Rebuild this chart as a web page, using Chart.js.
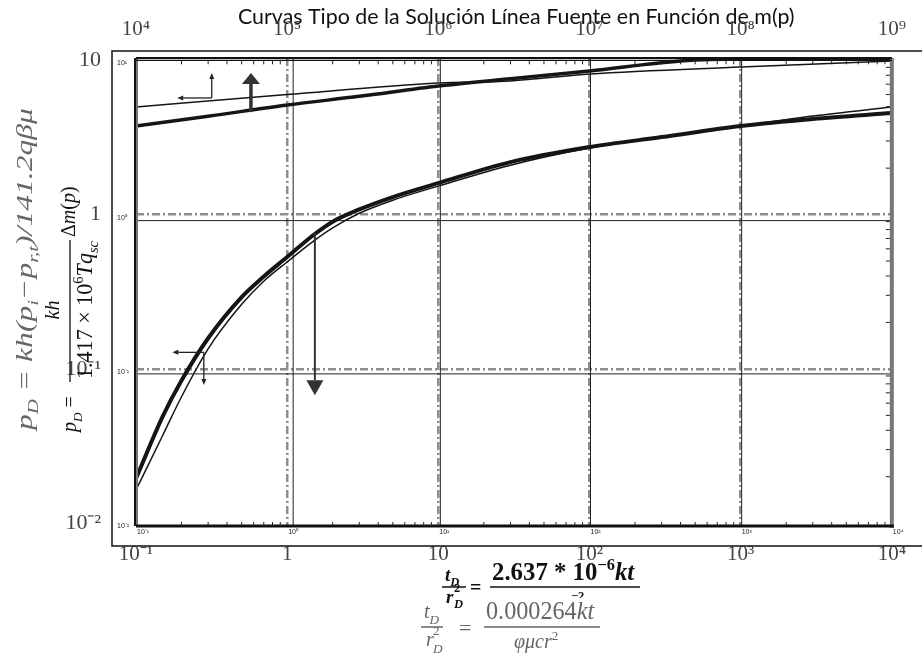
<!DOCTYPE html>
<html>
<head>
<meta charset="utf-8">
<title>Curvas Tipo - Solución Línea Fuente</title>
<script src="https://cdn.jsdelivr.net/npm/chart.js@4.4.0/dist/chart.umd.min.js"></script>
<style>
  html, body { margin: 0; padding: 0; background: #fff; }
  #wrap { width: 922px; height: 665px; }
</style>
</head>
<body>
<div id="wrap"><canvas id="curvas" width="922" height="665"></canvas></div>
<script>
// Lower pair of curves: pD against tD/rD^2 (bottom axis)
const lowerThickX = [0.1, 0.15, 0.2, 0.3, 0.5, 0.7, 1, 1.5, 2, 3, 5, 10, 30, 100, 300, 1000, 3000, 10000];
const lowerThick  = [0.0195, 0.049, 0.084, 0.158, 0.292, 0.397, 0.531, 0.74, 0.9, 1.08, 1.30, 1.60, 2.19, 2.74, 3.18, 3.75, 4.17, 4.55];
const lowerThinX  = [0.1, 0.15, 0.2, 0.3, 0.5, 0.7, 1, 1.5, 2, 3, 5, 10, 30, 100, 300, 1000, 3000, 10000];
const lowerThin   = [0.0164, 0.037, 0.066, 0.135, 0.262, 0.37, 0.493, 0.675, 0.82, 1.02, 1.24, 1.53, 2.09, 2.70, 3.18, 3.75, 4.35, 4.98];

// Upper pair of curves: pD against the top axis
const upperThickX = [1e4, 3e4, 1e5, 3e5, 1e6, 3e6, 1e7, 4e7, 1e8, 1e9];
const upperThick  = [3.75, 4.34, 5.13, 5.84, 6.81, 7.6, 8.53, 9.9, 10.2, 10.2];
const upperThinX  = [1e4, 1e5, 1e6, 3e6, 1e7, 1e8, 1e9];
const upperThin   = [4.98, 6.0, 7.13, 7.35, 8.15, 9.05, 9.9];

// Axis ticks and labels
const bottomTicks  = [0.1, 1, 10, 100, 1000, 10000];
const bottomLabels = ['10⁻¹', '1', '10', '10²', '10³', '10⁴'];
const topTicks     = [1e4, 1e5, 1e6, 1e7, 1e8, 1e9];
const topLabels    = ['10⁴', '10⁵', '10⁶', '10⁷', '10⁸', '10⁹'];
const leftTicks    = [0.01, 0.1, 1, 10];
const leftLabels   = ['10⁻²', '10⁻¹', '1', '10'];
const innerBottomLabels = ['10⁻¹', '10⁰', '10¹', '10²', '10³', '10⁴'];
const innerLeftLabels   = ['10⁻²', '10⁻¹', '10⁰', '10¹'];

// Arrows drawn on the plot (data units)
const bigUp   = { x: 0.576, from: 4.62, to: 8.27 };
const bigDown = { x: 1.525, from: 0.76, to: 0.0676 };
const upperL  = { x: 0.317, y: 5.7, up: 8.27, left: 0.1875 };
const lowerL  = { x: 0.281, y: 0.128, down: 0.0787, left: 0.174 };

const title = 'Curvas Tipo de la Solución Línea Fuente en Función de m(p)';

function toPoints(xs, ys) {
    return xs.map((x, i) => ({ x: x, y: ys[i] }));
}

// draw a run of text pieces (italic, bold, sub, sup); returns width
function rich(ctx, parts, size, x, y, draw) {
    let cx = x;
    parts.forEach(p => {
        const s = (p.sub || p.sup) ? size * 0.66 : size;
        ctx.font = (p.it ? 'italic ' : '') + (p.b ? 'bold ' : '') + s.toFixed(1) + 'px ' + (p.f || '"Liberation Serif"');
        const dy = p.sub ? size * 0.28 : p.sup ? -size * 0.42 : 0;
        if (draw) ctx.fillText(p.t, cx, y + dy);
        cx += ctx.measureText(p.t).width;
    });
    return cx - x;
}

function fit(ctx, parts, base, target) {
    return base * target / rich(ctx, parts, base, 0, 0, false);
}

function arrow(ctx, x1, y1, x2, y2, head, half, width, color) {
    const a = Math.atan2(y2 - y1, x2 - x1);
    const bx = x2 - head * Math.cos(a), by = y2 - head * Math.sin(a);
    ctx.strokeStyle = color;
    ctx.lineWidth = width;
    ctx.beginPath(); ctx.moveTo(x1, y1); ctx.lineTo(bx, by); ctx.stroke();
    ctx.fillStyle = color;
    ctx.beginPath();
    ctx.moveTo(x2, y2);
    ctx.lineTo(bx + half * Math.sin(a), by - half * Math.cos(a));
    ctx.lineTo(bx - half * Math.sin(a), by + half * Math.cos(a));
    ctx.closePath();
    ctx.fill();
}

function line(ctx, x1, y1, x2, y2) {
    ctx.beginPath(); ctx.moveTo(x1, y1); ctx.lineTo(x2, y2); ctx.stroke();
}

const scanPlugin = {
    id: 'scan',
    beforeDraw(chart) {
        const ctx = chart.ctx;
        ctx.save();
        ctx.fillStyle = '#fff';
        ctx.fillRect(0, 0, chart.width, chart.height);
        // title, partly hidden by the top tick labels
        ctx.fillStyle = '#111';
        ctx.textBaseline = 'alphabetic';
        ctx.font = '19px Lato';
        const size = 19 * 556 / ctx.measureText(title).width;
        ctx.font = size.toFixed(1) + 'px Lato';
        ctx.fillText(title, 238, 24);
        ctx.restore();
    },
    beforeDatasetsDraw(chart) {
        // thin solid lines sitting next to the dash-dot grid of the scan
        const ctx = chart.ctx, a = chart.chartArea;
        const xs = chart.scales.x, ys = chart.scales.y;
        ctx.save();
        ctx.strokeStyle = '#222';
        ctx.lineWidth = 1;
        [[1, 6], [10, 2], [100, 1], [1000, 1]].forEach(([v, off]) => {
            const px = xs.getPixelForValue(v) + off;
            line(ctx, px, a.top, px, a.bottom);
        });
        [[1, 6], [0.1, 5]].forEach(([v, off]) => {
            const py = ys.getPixelForValue(v) + off;
            line(ctx, a.left, py, a.right, py);
        });
        ctx.restore();
    },
    afterDraw(chart) {
        const ctx = chart.ctx, a = chart.chartArea;
        const xs = chart.scales.x, ys = chart.scales.y;
        const yTen = ys.getPixelForValue(10);
        ctx.save();

        // outer frame of the composite figure
        ctx.strokeStyle = '#111';
        ctx.lineWidth = 1.5;
        ctx.beginPath();
        ctx.moveTo(922, 51); ctx.lineTo(112, 51); ctx.lineTo(112, 546); ctx.lineTo(922, 546);
        ctx.stroke();

        // inner (scanned) frame
        ctx.strokeStyle = '#777';
        ctx.lineWidth = 4;
        line(ctx, a.left, a.top, a.left, a.bottom);
        line(ctx, a.right, a.top, a.right, a.bottom + 2);
        ctx.strokeStyle = '#111';
        ctx.lineWidth = 2;
        line(ctx, a.left, a.top, a.right, a.top);
        line(ctx, a.left - 1, a.top, a.left - 1, a.bottom);
        ctx.lineWidth = 3;
        line(ctx, a.left, a.bottom, a.right + 2, a.bottom);
        ctx.lineWidth = 1.2;
        line(ctx, a.left, yTen, a.right, yTen);

        // minor ticks
        ctx.lineWidth = 1;
        ctx.strokeStyle = '#222';
        for (let d = -1; d < 4; d++) {
            for (let k = 2; k <= 9; k++) {
                const px = xs.getPixelForValue(k * Math.pow(10, d));
                line(ctx, px, a.bottom, px, a.bottom - 4);
                line(ctx, px, yTen, px, yTen + 4);
            }
        }
        for (let d = -2; d < 1; d++) {
            for (let k = 2; k <= 9; k++) {
                const py = ys.getPixelForValue(k * Math.pow(10, d));
                line(ctx, a.right - 2, py, a.right - 6, py);
            }
        }

        // tiny labels of the scanned plot
        ctx.fillStyle = '#222';
        ctx.font = '7px "Liberation Sans"';
        ctx.textBaseline = 'top';
        ctx.textAlign = 'left';
        bottomTicks.forEach((v, i) => ctx.fillText(innerBottomLabels[i], xs.getPixelForValue(v) + 1, a.bottom + 3));
        ctx.textBaseline = 'middle';
        leftTicks.forEach((v, i) => ctx.fillText(innerLeftLabels[i], 117, ys.getPixelForValue(v) + 3));

        // arrows
        const X = v => xs.getPixelForValue(v), Y = v => ys.getPixelForValue(v);
        arrow(ctx, X(bigUp.x), Y(bigUp.from), X(bigUp.x), Y(bigUp.to), 11, 9, 3.5, '#333');
        arrow(ctx, X(bigDown.x), Y(bigDown.from), X(bigDown.x), Y(bigDown.to), 15, 8.5, 2, '#333');
        arrow(ctx, X(upperL.x), Y(upperL.y), X(upperL.x), Y(upperL.up), 6, 2.5, 1.3, '#222');
        arrow(ctx, X(upperL.x), Y(upperL.y), X(upperL.left), Y(upperL.y), 6, 2.5, 1.3, '#222');
        arrow(ctx, X(lowerL.x), Y(lowerL.y), X(lowerL.x), Y(lowerL.down), 6, 2.5, 1.3, '#222');
        arrow(ctx, X(lowerL.x), Y(lowerL.y), X(lowerL.left), Y(lowerL.y), 6, 2.5, 1.3, '#222');

        ctx.textAlign = 'left';
        ctx.textBaseline = 'alphabetic';

        // left title 1 (scanned, grey italic), stretched along the text to its length
        const pd1 = [{ t: 'p', it: 1 }, { t: 'D', it: 1, sub: 1 }, { t: ' = kh(', it: 1 }, { t: 'p', it: 1 }, { t: 'i', it: 1, sub: 1 },
            { t: '−', it: 1 }, { t: 'p', it: 1 }, { t: 'r,t', it: 1, sub: 1 }, { t: ')/141.2qβμ', it: 1 }];
        ctx.save();
        ctx.translate(32, 430);
        ctx.rotate(-Math.PI / 2);
        ctx.fillStyle = '#666';
        const w1 = rich(ctx, pd1, 23, 0, 0, false);
        ctx.scale(322 / w1, 1);
        rich(ctx, pd1, 23, 0, 0, true);
        ctx.restore();

        // left title 2 (typed formula)
        const lhs = [{ t: 'p', it: 1 }, { t: 'D', it: 1, sub: 1 }, { t: ' =' }];
        const num = [{ t: 'kh', it: 1 }];
        const den = [{ t: '1.417 × 10' }, { t: '6', sup: 1 }, { t: 'T', it: 1 }, { t: 'q', it: 1 }, { t: 'sc', it: 1, sub: 1 }];
        const tail = [{ t: 'Δ' }, { t: 'm', it: 1 }, { t: '(' }, { t: 'p', it: 1 }, { t: ')' }];
        ctx.save();
        ctx.translate(70, 432);
        ctx.rotate(-Math.PI / 2);
        ctx.fillStyle = '#111';
        ctx.strokeStyle = '#111';
        rich(ctx, lhs, 20, 0, 6, true);
        ctx.lineWidth = 1.3;
        line(ctx, 50, 0, 192, 0);
        const wNum = rich(ctx, num, 20, 0, 0, false);
        rich(ctx, num, 20, 122 - wNum / 2, -11, true);
        const denSize = fit(ctx, den, 18, 138);
        rich(ctx, den, denSize, 53, 22, true);
        rich(ctx, tail, 20, 195, 5, true);
        ctx.restore();

        // bottom formula (bold)
        ctx.fillStyle = '#111';
        ctx.strokeStyle = '#111';
        rich(ctx, [{ t: 't', it: 1, b: 1 }, { t: 'D', it: 1, b: 1, sub: 1 }], 19, 445, 581, true);
        ctx.lineWidth = 1.5;
        line(ctx, 442, 587, 466, 587);
        rich(ctx, [{ t: 'r', it: 1, b: 1 }], 19, 446, 603, true);
        rich(ctx, [{ t: '2', b: 1, sup: 1 }], 19, 454, 600, true);
        rich(ctx, [{ t: 'D', it: 1, b: 1, sub: 1 }], 19, 454, 603, true);
        rich(ctx, [{ t: '=', b: 1 }], 20, 470, 594, true);
        const bigNum = [{ t: '2.637 * 10', b: 1 }, { t: '−6', b: 1, sup: 1 }, { t: 'kt', b: 1, it: 1 }];
        rich(ctx, bigNum, fit(ctx, bigNum, 19, 142), 492, 580, true);
        line(ctx, 490, 587, 640, 587);
        ctx.save();
        ctx.beginPath(); ctx.rect(480, 588, 180, 10); ctx.clip();
        rich(ctx, [{ t: 'φμc', b: 1, it: 1 }, { t: 't', b: 1, it: 1, sub: 1 }, { t: 'r', b: 1, it: 1 }, { t: '−2', b: 1, sup: 1 }], 19, 530, 608, true);
        ctx.restore();

        // bottom formula (scanned, grey)
        ctx.fillStyle = '#666';
        ctx.strokeStyle = '#666';
        rich(ctx, [{ t: 't', it: 1 }, { t: 'D', it: 1, sub: 1 }], 20, 424, 618, true);
        ctx.lineWidth = 1.5;
        line(ctx, 421, 627, 443, 627);
        rich(ctx, [{ t: 'r', it: 1 }], 20, 426, 646, true);
        rich(ctx, [{ t: '2', sup: 1 }], 20, 433, 643, true);
        rich(ctx, [{ t: 'D', it: 1, sub: 1 }], 20, 433, 647, true);
        rich(ctx, [{ t: '=' }], 22, 459, 635, true);
        const gNum = [{ t: '0.000264' }, { t: 'kt', it: 1 }];
        rich(ctx, gNum, fit(ctx, gNum, 20, 108), 486, 619, true);
        line(ctx, 484, 627, 600, 627);
        rich(ctx, [{ t: 'φμcr', it: 1 }, { t: '2', sup: 1 }], 20, 514, 648, true);

        ctx.restore();
    }
};

const gridColor = n => ctx => (ctx.index === 0 || ctx.index === n - 1) ? 'rgba(0,0,0,0)' : '#8e8e8e';

new Chart(document.getElementById('curvas'), {
    type: 'scatter',
    data: {
        datasets: [
            { data: toPoints(lowerThickX, lowerThick), xAxisID: 'x', yAxisID: 'y', borderColor: '#151515', borderWidth: 4 },
            { data: toPoints(lowerThinX, lowerThin), xAxisID: 'x', yAxisID: 'y', borderColor: '#151515', borderWidth: 1.5 },
            { data: toPoints(upperThickX, upperThick), xAxisID: 'x2', yAxisID: 'y', borderColor: '#151515', borderWidth: 3.5 },
            { data: toPoints(upperThinX, upperThin), xAxisID: 'x2', yAxisID: 'y', borderColor: '#151515', borderWidth: 1.5 }
        ].map(d => Object.assign(d, { showLine: true, pointRadius: 0, cubicInterpolationMode: 'monotone' }))
    },
    options: {
        responsive: false,
        animation: false,
        events: [],
        layout: { padding: { left: 0, right: 17, top: 0, bottom: 0 } },
        plugins: { legend: { display: false }, tooltip: { enabled: false } },
        scales: {
            x: {
                type: 'logarithmic',
                position: 'bottom',
                min: 0.1,
                max: 1e4,
                afterBuildTicks: s => { s.ticks = bottomTicks.map(v => ({ value: v })); },
                afterFit: s => { s.height = 139; },
                ticks: {
                    callback: (v, i) => bottomLabels[i],
                    autoSkip: false, maxRotation: 0, padding: 16,
                    color: '#444', font: { family: '"Liberation Serif"', size: 21 }
                },
                grid: { drawTicks: false, color: gridColor(bottomTicks.length), lineWidth: 2.5 },
                border: { display: false, dash: [8, 3, 2, 3] }
            },
            x2: {
                type: 'logarithmic',
                position: 'top',
                min: 1e4,
                max: 1e9,
                afterBuildTicks: s => { s.ticks = topTicks.map(v => ({ value: v })); },
                afterFit: s => { s.height = 58; },
                ticks: {
                    callback: (v, i) => topLabels[i],
                    autoSkip: false, maxRotation: 0, padding: 8,
                    color: '#444', font: { family: '"Liberation Serif"', size: 21 }
                },
                grid: { display: false },
                border: { display: false }
            },
            y: {
                type: 'logarithmic',
                position: 'left',
                min: 0.00959,
                max: 10.35,
                afterBuildTicks: s => { s.ticks = leftTicks.map(v => ({ value: v })); },
                afterFit: s => { s.width = 136; },
                ticks: {
                    callback: (v, i) => leftLabels[i],
                    autoSkip: false, padding: 35,
                    color: '#444', font: { family: '"Liberation Serif"', size: 22 }
                },
                grid: { drawTicks: false, color: gridColor(leftTicks.length), lineWidth: 2.5 },
                border: { display: false, dash: [8, 3, 2, 3] }
            }
        }
    },
    plugins: [scanPlugin]
});
</script>
</body>
</html>
